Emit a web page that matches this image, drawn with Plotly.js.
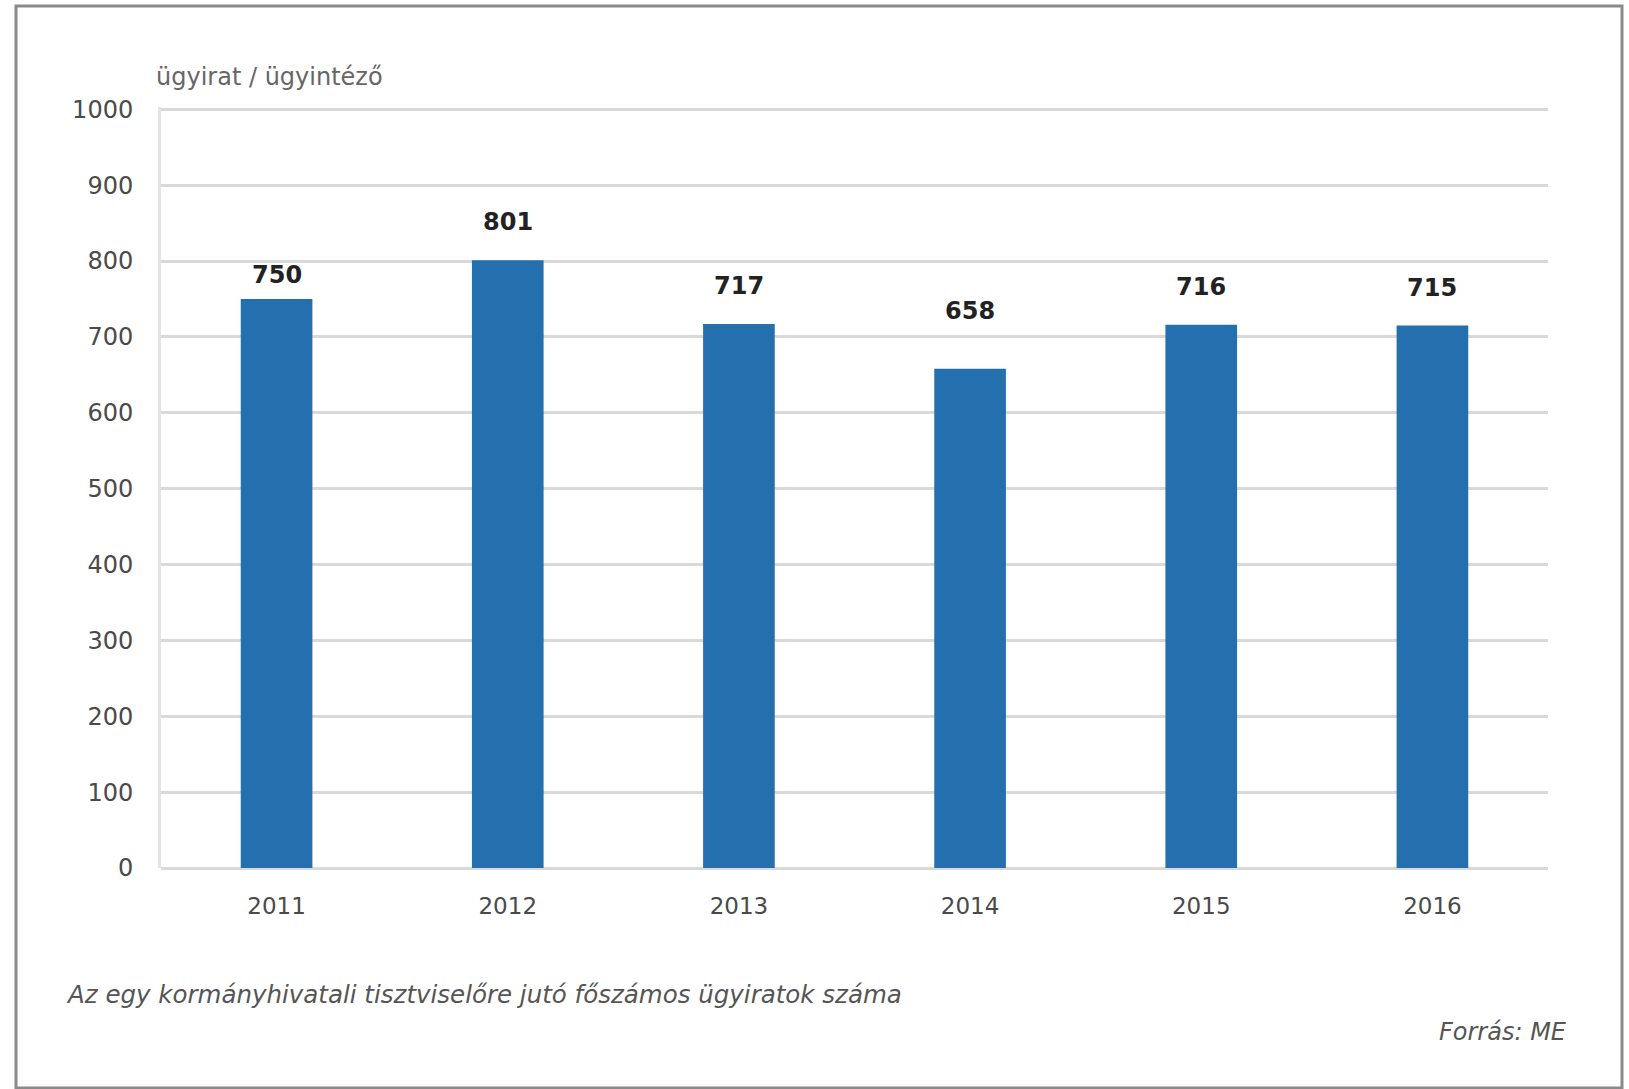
<!DOCTYPE html>
<html>
<head>
<meta charset="utf-8">
<script src="https://cdn.plot.ly/plotly-3.0.1.min.js"></script>
<style>html,body{margin:0;padding:0;background:#fff;}#chart{width:1629px;height:1089px;}</style>
</head>
<body>
<div id="chart"></div>
<script>
// ---- data ----
const years = ["2011", "2012", "2013", "2014", "2015", "2016"];
const values = [750, 801, 717, 658, 716, 715];
const yTicks = [0, 100, 200, 300, 400, 500, 600, 700, 800, 900, 1000];
const yUnitLabel = "ügyirat / ügyintéző";
const captionText = "Az egy kormányhivatali tisztviselőre jutó főszámos ügyiratok száma";
const sourceText = "Forrás: ME";

// ---- layout geometry / style ----
const W = 1629, H = 1089;
const M = {l: 161, r: 81, t: 107, b: 221};
const pw = W - M.l - M.r, ph = H - M.t - M.b;
const px = x => (x - M.l) / pw;          // pixel -> paper x
const py = y => (H - M.b - y) / ph;      // pixel -> paper y
const labelShift = [24, 38, 38, 58, 38, 38]; // label offset above bar top (px)

const barColor = "#2470ae";
const gridColor = "#d9d9d9";

const trace = {
  type: "bar",
  x: years.map((_, i) => i),
  y: values,
  marker: {color: barColor, line: {width: 0}},
  hoverinfo: "y"
};

const labelAnns = years.map((yr, i) => ({
  x: i, y: values[i], xref: "x", yref: "y",
  text: "<b>" + values[i] + "</b>",
  showarrow: false, yanchor: "middle", yshift: labelShift[i],
  font: {family: "DejaVu Sans", size: 24, color: "#222"}
}));

const layout = {
  width: W, height: H,
  margin: M,
  paper_bgcolor: "#fff", plot_bgcolor: "#fff",
  bargap: 0.69,
  showlegend: false,
  font: {family: "DejaVu Sans", color: "#555"},
  xaxis: {
    type: "linear",
    range: [-0.5, 5.5],
    autorange: false,
    tickvals: years.map((_, i) => i),
    ticktext: years,
    showgrid: false,
    showline: false,
    zeroline: false,
    ticks: "",
    ticklabelstandoff: 22,
    tickfont: {family: "DejaVu Sans", size: 23, color: "#4a4a4a"},
    fixedrange: true
  },
  yaxis: {
    range: [0, 1003],
    autorange: false,
    tickvals: yTicks,
    ticktext: yTicks.map(String),
    showgrid: true,
    gridcolor: gridColor,
    gridwidth: 3,
    zeroline: true,
    zerolinecolor: gridColor,
    zerolinewidth: 3,
    showline: true,
    linecolor: "#e3e3e3",
    linewidth: 3,
    ticks: "",
    ticklabelstandoff: 20,
    tickfont: {family: "DejaVu Sans", size: 24, color: "#4a4a4a"},
    fixedrange: true
  },
  annotations: labelAnns.concat([
    {
      xref: "paper", yref: "paper", x: px(154), y: py(77),
      xanchor: "left", yanchor: "middle", showarrow: false,
      text: yUnitLabel,
      font: {family: "DejaVu Sans", size: 24, color: "#666"}
    },
    {
      xref: "paper", yref: "paper", x: px(64), y: py(994),
      xanchor: "left", yanchor: "middle", showarrow: false,
      text: "<i>" + captionText + "</i>",
      font: {family: "DejaVu Sans", size: 24.5, color: "#555"}
    },
    {
      xref: "paper", yref: "paper", x: px(1569), y: py(1032),
      xanchor: "right", yanchor: "middle", showarrow: false,
      text: "<i>" + sourceText + "</i>",
      font: {family: "DejaVu Sans", size: 24, color: "#555"}
    }
  ]),
  shapes: [
    {
      type: "rect", xref: "paper", yref: "paper",
      x0: px(16), x1: px(1622), y0: py(1088), y1: py(6),
      line: {color: "#8a8a8a", width: 3},
      fillcolor: "rgba(0,0,0,0)", layer: "below"
    }
  ]
};

Plotly.newPlot("chart", [trace], layout, {displayModeBar: false, staticPlot: true});
</script>
</body>
</html>
